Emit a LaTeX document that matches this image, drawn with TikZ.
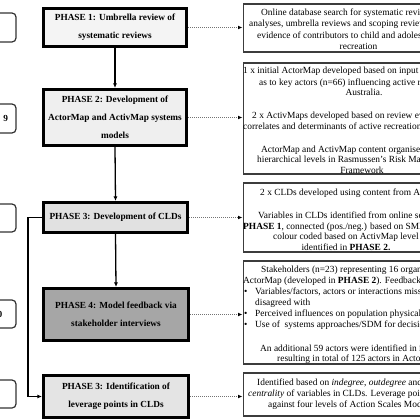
\documentclass[tikz,border=0pt]{standalone}
\usepackage{fontspec}
\setmainfont{Liberation Serif}
\usetikzlibrary{arrows.meta,positioning}
\definecolor{fillA}{HTML}{F4F4F4}
\definecolor{fillB}{HTML}{EFEFEF}
\definecolor{fillC}{HTML}{E1E1E1}
\definecolor{fillD}{HTML}{A6A6A6}
\definecolor{fillE}{HTML}{E4E4E4}
\definecolor{rbord}{HTML}{3C3C3C}
\tikzset{
  phasebox/.style={draw=black, line width=2.6pt, inner sep=0pt, align=center,
    font=\fontsize{9.3}{17.8}\selectfont\bfseries},
  rightbox/.style={draw=rbord, line width=1.6pt, fill=white, inner sep=0pt, minimum width=300pt},
  leftbox/.style={draw=black!80, line width=1.2pt, rounded corners=4pt, inner sep=0pt, minimum width=50pt},
  rtext/.style={anchor=base west, inner sep=0pt, font=\fontsize{9.4}{10.8}\selectfont},
  ctext/.style={anchor=base, inner sep=0pt, font=\fontsize{9.4}{10.8}\selectfont},
  flowarrow/.style={draw=black, line width=1.3pt, -{Latex[length=4.5pt,width=4pt]}},
  dotarrow/.style={draw=black!55, line width=0.9pt, dash pattern=on 0.9pt off 1.1pt,
    -{Latex[length=4.5pt,width=3.8pt,color=black]}}
}
\begin{document}
\begin{tikzpicture}[x=1pt,y=-1pt]
\useasboundingbox (0,0) rectangle (420,420);
\clip (0,0) rectangle (420,420);

% left rounded boxes (cut off)
\node[leftbox, minimum height=29pt] (la) at (-9,27.5) {};
\node[leftbox, minimum height=29pt] (lb) at (-9,118.5) {};
\node[leftbox, minimum height=28pt] (lc) at (-9,218) {};
\node[leftbox, minimum height=28pt] (ld) at (-9,314) {};
\node[leftbox, minimum height=28pt] (le) at (-9,394) {};
\node[anchor=base east, inner sep=0pt, font=\fontsize{9.3}{10.8}\selectfont\bfseries] (lbt) at (8.3,121.5) {9};
\node[anchor=base east, inner sep=0pt, font=\fontsize{9.3}{10.8}\selectfont\bfseries] (ldt) at (2.6,317.5) {0};

% phase boxes
\node[phasebox, fill=fillA, minimum width=143.5pt, minimum height=38.5pt] (p1) at (115,27.5)
  {PHASE 1: Umbrella review of\\systematic reviews};
\node[phasebox, fill=fillB, minimum width=143.5pt, minimum height=56.5pt] (p2) at (115,117.5)
  {PHASE 2: Development of\\ActorMap and ActivMap systems\\models};
\node[phasebox, fill=fillC, minimum width=144.5pt, minimum height=30.5pt] (p3) at (115.5,217.5)
  {PHASE 3: Development of CLDs};
\node[phasebox, fill=fillD, minimum width=145.5pt, minimum height=52.5pt] (p4) at (116,314.5)
  {PHASE 4: Model feedback via\\stakeholder interviews};
\node[phasebox, fill=fillE, minimum width=145.5pt, minimum height=42.5pt] (p5) at (116,396.5)
  {PHASE 3: Identification of\\leverage points in CLDs};

% right boxes
\node[rightbox, anchor=west, minimum height=48.5pt] (ra) at (242.5,28) {};
\node[rightbox, anchor=west, minimum height=111.5pt] (rb) at (242.5,118.5) {};
\node[rightbox, anchor=west, minimum height=69.5pt] (rc) at (242.5,217.5) {};
\node[rightbox, anchor=west, minimum height=103.5pt] (rd) at (242.5,312.5) {};
\node[rightbox, anchor=west, minimum height=43.5pt] (re) at (242.5,394.5) {};

% box A text
\node[rtext] (a1) at (261,16) {Online database search for systematic reviews, meta-};
\node[rtext] (a2) at (249,27) {analyses, umbrella reviews and scoping reviews for};
\node[rtext] (a3) at (257,38) {evidence of contributors to child and adolescent active};
\node[ctext] (a4) at (358.5,49) {recreation};

% box B text
\node[rtext] (b1) at (243,74) {1 x initial ActorMap developed based on input from experts};
\node[rtext] (b2) at (259,85) {as to key actors (n=66) influencing active recreation in};
\node[ctext] (b3) at (364,95.5) {Australia.};
\node[rtext] (b4) at (252,118) {2 x ActivMaps developed based on review evidence of};
\node[rtext] (b5) at (243,129) {correlates and determinants of active recreation};
\node[rtext] (b6) at (261,152) {ActorMap and ActivMap content organised into};
\node[rtext] (b7) at (257,162.5) {hierarchical levels in Rasmussen's Risk Management};
\node[ctext] (b8) at (362,173) {Framework};

% box C text
\node[rtext] (c1) at (260,195) {2 x CLDs developed using content from ActivMaps.};
\node[rtext] (c2) at (258,218) {Variables in CLDs identified from online search in};
\node[rtext] (c3) at (243,229) {\textbf{PHASE 1}, connected (pos./neg.) based on SMEs,};
\node[rtext] (c4) at (273,239.5) {colour coded based on ActivMap level of variable};
\node[ctext] (c5) at (346,250) {identified in \textbf{PHASE 2.}};

% box D text
\node[rtext] (d1) at (261,272) {Stakeholders (n=23) representing 16 organisations reviewed};
\node[rtext] (d2) at (243,283) {ActorMap (developed in \textbf{PHASE 2}). Feedback sought on:};
\node[rtext] (d3b) at (244,294) {•};
\node[rtext] (d3) at (255,294) {Variables/factors, actors or interactions missing or};
\node[rtext] (d4) at (255,305) {disagreed with};
\node[rtext] (d5b) at (244,316) {•};
\node[rtext] (d5) at (255,316) {Perceived influences on population physical activity};
\node[rtext] (d6b) at (244,327) {•};
\node[rtext] (d6) at (255,327) {Use of\ \ systems approaches/SDM for decision making};
\node[rtext] (d7) at (260,351) {An additional 59 actors were identified in interviews,};
\node[rtext] (d8) at (277,361.5) {resulting in total of 125 actors in ActorMap.};

% box E text
\node[rtext] (e1) at (257,385) {Identified based on \textit{indegree}, \textit{outdegree} and \textit{betweenness}};
\node[rtext] (e2) at (248,396) {\textit{centrality} of variables in CLDs. Leverage points mapped};
\node[rtext] (e3) at (268,407) {against four levels of Action Scales Model.};

% flow arrows
\draw[flowarrow] (p1.south) -- (p2.north);
\draw[flowarrow] (p2.south) -- (p3.north);
\draw[flowarrow] (p3.south) -- (p4.north);
\draw[flowarrow] (p3.west) -- ++(-14,0) |- (p5.west);

% dotted arrows
\draw[dotarrow] (p1.east) -- (p1.east -| ra.west);
\draw[dotarrow] (p2.east) -- (p2.east -| rb.west);
\draw[dotarrow] (p3.east) -- (p3.east -| rc.west);
\draw[dotarrow] (p4.east) -- (p4.east -| rd.west);
\draw[dotarrow] (p5.east) -- (p5.east -| re.west);
\end{tikzpicture}
\end{document}
